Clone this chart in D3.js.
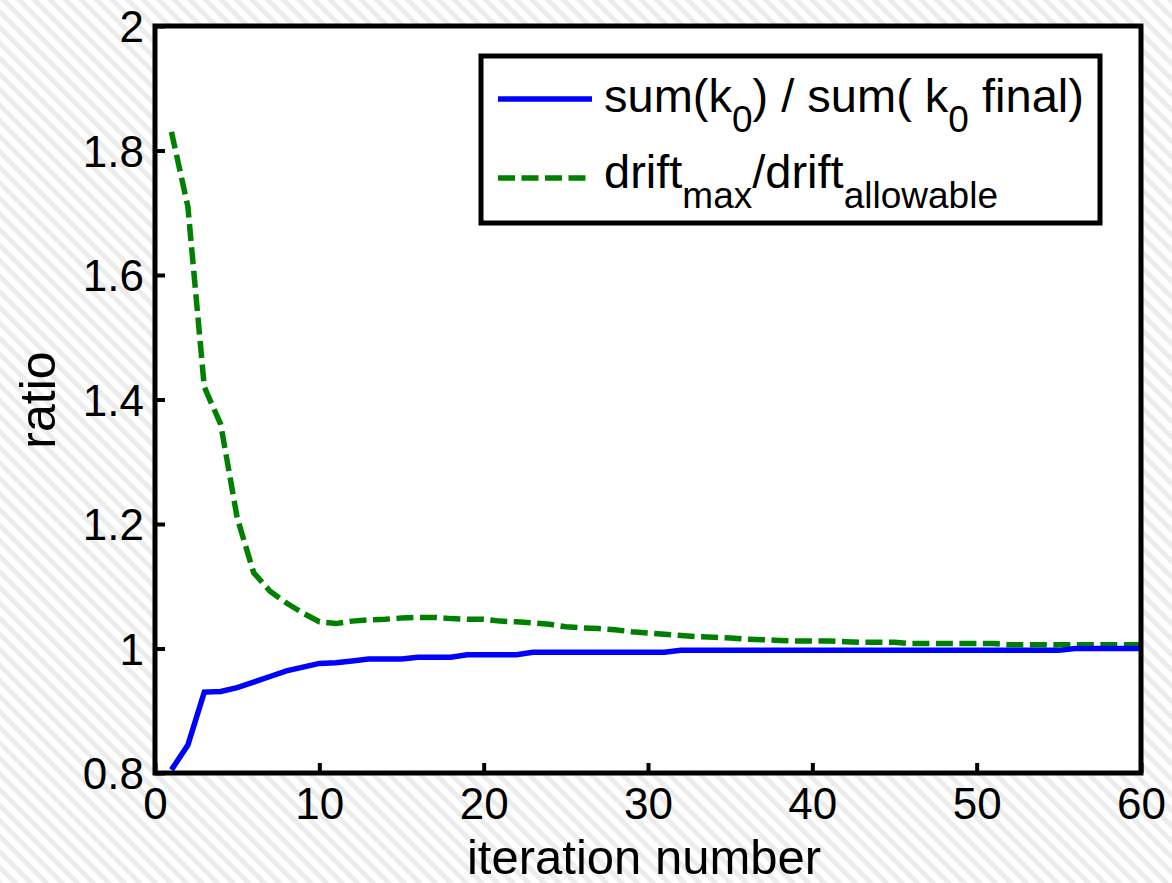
<!DOCTYPE html>
<html>
<head>
<meta charset="utf-8">
<script src="https://cdn.jsdelivr.net/npm/d3@7"></script>
<style>
  html, body { margin: 0; padding: 0; background: #fff; }
  svg { display: block; }
  text { font-family: "Liberation Sans", Arial, Helvetica, sans-serif; fill: #000; }
</style>
</head>
<body>
<svg id="chart" width="1172" height="883"></svg>
<script>
// Iteration numbers on the x axis
const iterations = [1,2,3,4,5,6,7,8,9,10,11,12,13,14,15,16,17,18,19,20,
  21,22,23,24,25,26,27,28,29,30,31,32,33,34,35,36,37,38,39,40,
  41,42,43,44,45,46,47,48,49,50,51,52,53,54,55,56,57,58,59,60];

// sum(k0) / sum(k0 final)
const sumRatio = [0.805,0.845,0.930,0.931,0.937,0.946,0.955,0.964,0.970,0.976,
  0.977,0.980,0.983,0.983,0.983,0.986,0.986,0.986,0.990,0.990,
  0.990,0.990,0.994,0.994,0.994,0.994,0.994,0.994,0.994,0.994,
  0.994,0.997,0.997,0.997,0.997,0.997,0.997,0.997,0.997,0.997,
  0.997,0.997,0.997,0.997,0.997,0.997,0.997,0.997,0.997,0.997,
  0.997,0.997,0.997,0.997,0.997,1.000,1.000,1.000,1.000,1.000];

// drift_max / drift_allowable
const driftRatio = [1.830,1.710,1.420,1.360,1.210,1.122,1.092,1.073,1.057,1.043,
  1.040,1.044,1.046,1.047,1.049,1.050,1.050,1.048,1.047,1.047,
  1.044,1.043,1.041,1.039,1.035,1.033,1.032,1.030,1.027,1.025,
  1.023,1.021,1.019,1.018,1.017,1.015,1.014,1.013,1.012,1.012,
  1.012,1.011,1.010,1.010,1.010,1.008,1.008,1.008,1.008,1.008,
  1.008,1.006,1.006,1.006,1.006,1.006,1.006,1.006,1.006,1.006];

const xTicks = [0,10,20,30,40,50,60];
const yTicks = [0.8,1,1.2,1.4,1.6,1.8,2];

const svg = d3.select("#chart");
const W = 1172, H = 883;
const plot = { left: 155, top: 26, right: 1141, bottom: 773 };

// Hatched figure background
const defs = svg.append("defs");
const pat = defs.append("pattern")
  .attr("id", "hatch")
  .attr("patternUnits", "userSpaceOnUse")
  .attr("width", 11).attr("height", 11)
  .attr("patternTransform", "rotate(-45)");
pat.append("rect").attr("width", 11).attr("height", 11).attr("fill", "#ffffff");
pat.append("rect").attr("width", 5).attr("height", 11).attr("fill", "#ececec");
svg.append("rect").attr("width", W).attr("height", H).attr("fill", "url(#hatch)");

// Plot area
svg.append("rect")
  .attr("x", plot.left).attr("y", plot.top)
  .attr("width", plot.right - plot.left).attr("height", plot.bottom - plot.top)
  .attr("fill", "#fff");

const x = d3.scaleLinear().domain([0, 60]).range([plot.left, plot.right]);
const y = d3.scaleLinear().domain([0.8, 2]).range([plot.bottom, plot.top]);

// Axes with inward ticks
const fmt = d => (d === 1 || d === 2) ? String(d) : d3.format(".1f")(d);
const yAxis = svg.append("g")
  .attr("transform", `translate(${plot.left},0)`)
  .call(d3.axisLeft(y).tickValues(yTicks).tickFormat(fmt).tickSizeInner(-10).tickSizeOuter(0).tickPadding(11));
yAxis.select(".domain").remove();
yAxis.selectAll(".tick line").attr("stroke", "#000").attr("stroke-width", 4);
yAxis.selectAll(".tick text").attr("font-size", 44).attr("dy", "0.36em");

const xAxis = svg.append("g")
  .attr("transform", `translate(0,${plot.bottom})`)
  .call(d3.axisBottom(x).tickValues(xTicks).tickFormat(d3.format("d")).tickSizeInner(-10).tickSizeOuter(0).tickPadding(15));
xAxis.select(".domain").remove();
xAxis.selectAll(".tick line").attr("stroke", "#000").attr("stroke-width", 4);
xAxis.selectAll(".tick text").attr("font-size", 44);

// Series lines
const line = (vals) => d3.line()
  .x((d, i) => x(iterations[i]))
  .y(d => y(d))(vals);

svg.append("path")
  .attr("d", line(driftRatio))
  .attr("fill", "none")
  .attr("stroke", "#008000")
  .attr("stroke-width", 5.5)
  .attr("stroke-dasharray", "17,6.5");

svg.append("path")
  .attr("d", line(sumRatio))
  .attr("fill", "none")
  .attr("stroke", "#0000ff")
  .attr("stroke-width", 5.5);

// Axes box
svg.append("rect")
  .attr("x", plot.left).attr("y", plot.top)
  .attr("width", plot.right - plot.left).attr("height", plot.bottom - plot.top)
  .attr("fill", "none").attr("stroke", "#000").attr("stroke-width", 5);

// Axis labels
svg.append("text")
  .attr("x", 644).attr("y", 874)
  .attr("text-anchor", "middle")
  .attr("font-size", 49)
  .text("iteration number");

svg.append("text")
  .attr("transform", "translate(55,400) rotate(-90)")
  .attr("text-anchor", "middle")
  .attr("font-size", 50)
  .text("ratio");

// Legend
const lg = svg.append("g");
lg.append("rect")
  .attr("x", 481).attr("y", 56).attr("width", 619).attr("height", 167)
  .attr("fill", "#fff").attr("stroke", "#000").attr("stroke-width", 5);

lg.append("line")
  .attr("x1", 498).attr("x2", 592).attr("y1", 99).attr("y2", 99)
  .attr("stroke", "#0000ff").attr("stroke-width", 5.5);
lg.append("line")
  .attr("x1", 498).attr("x2", 592).attr("y1", 178).attr("y2", 178)
  .attr("stroke", "#008000").attr("stroke-width", 5.5)
  .attr("stroke-dasharray", "17,6.5");

const fs = 47, sub = 37, subDy = 20;
const t1 = lg.append("text").attr("x", 604).attr("y", 112).attr("font-size", fs);
t1.append("tspan").text("sum(k");
t1.append("tspan").attr("font-size", sub).attr("dy", subDy).text("0");
t1.append("tspan").attr("dy", -subDy).text(") / sum( k");
t1.append("tspan").attr("font-size", sub).attr("dy", subDy).text("0");
t1.append("tspan").attr("dy", -subDy).text(" final)");

const t2 = lg.append("text").attr("x", 604).attr("y", 188).attr("font-size", fs);
t2.append("tspan").text("drift");
t2.append("tspan").attr("font-size", sub).attr("dy", subDy).text("max");
t2.append("tspan").attr("dy", -subDy).text("/drift");
t2.append("tspan").attr("font-size", sub).attr("dy", subDy).text("allowable");
</script>
</body>
</html>
